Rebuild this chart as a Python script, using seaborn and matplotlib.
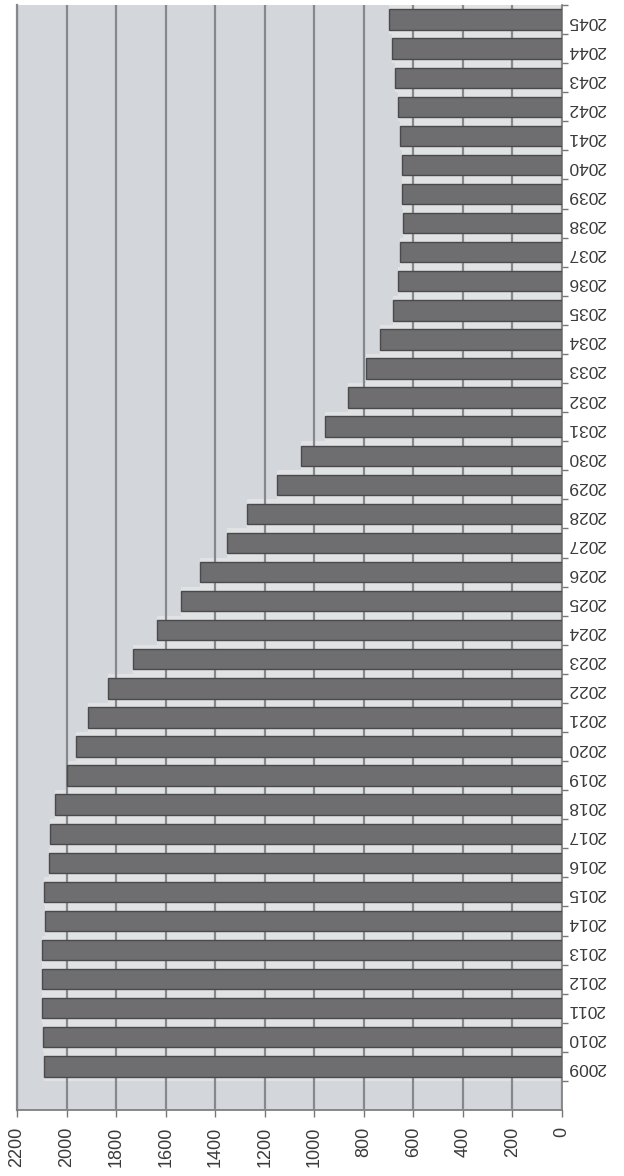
import matplotlib
matplotlib.use("Agg")
import matplotlib.pyplot as plt
import numpy as np
import pandas as pd
import seaborn as sns

# Annual values, 2009-2045
years = [str(y) for y in range(2009, 2046)]
values = [2091, 2095, 2099, 2099, 2099, 2087, 2091, 2071, 2067, 2045,
          2000, 1960, 1914, 1833, 1732, 1635, 1538, 1461, 1352, 1270,
          1150, 1054, 955, 862, 791, 733, 684, 664, 654, 642,
          644, 646, 654, 662, 674, 688, 700]
value_ticks = list(range(0, 2201, 200))

df = pd.DataFrame({"year": years, "value": values})
order = years[::-1]  # latest year at the top

sns.set_theme(style="white")
plt.rcParams["font.family"] = ["Liberation Sans", "DejaVu Sans"]

fig = plt.figure(figsize=(6.24, 11.76), dpi=100, facecolor="white")
W, H = 624, 1176
ax = fig.add_axes([17 / W, (H - 1110) / H, (562 - 17) / W, (1110 - 5) / H])
ax.set_facecolor("#d3d6db")

# pale band behind each bar
sns.barplot(data=df, x="value", y="year", order=order, orient="h",
            color="#e1e2e4", width=1.0, linewidth=0, saturation=1,
            ax=ax, zorder=1)
# main bars
sns.barplot(data=df, x="value", y="year", order=order, orient="h",
            color="#6e6e71", width=0.7, edgecolor="#4a4a4c", linewidth=1.0,
            saturation=1, ax=ax, zorder=3)

n = len(years)
ax.set_xlim(2200, 0)
ax.set_ylim(n - 1 + 1.5, -0.5)

ax.set_xticks(value_ticks)
ax.set_xticklabels([str(v) for v in value_ticks], rotation=90,
                   fontsize=13, color="#3a3a3a")
ax.grid(axis="x", color="#85888d", linewidth=1.6, zorder=2)
ax.grid(axis="y", visible=False)
ax.set_axisbelow(False)
for gl in ax.get_xgridlines():
    gl.set_zorder(2)

ax.yaxis.tick_right()
ax.set_yticks(range(n))
ax.set_yticklabels(order, rotation=180, fontsize=12.5, color="#3a3a3a")
ax.set_yticks(np.arange(-0.5, n + 0.5, 1.0), minor=True)
ax.tick_params(axis="y", which="major", length=0, pad=4)
ax.tick_params(axis="y", which="minor", length=4, width=1, color="#777777",
               direction="out", right=True, left=False)
ax.tick_params(axis="x", which="major", length=5, width=1, color="#777777",
               direction="out", bottom=True, pad=7)

ax.set_xlabel("")
ax.set_ylabel("")

ax.spines["top"].set_visible(False)
ax.spines["left"].set_color("#85888d")
ax.spines["left"].set_linewidth(1.6)
ax.spines["right"].set_color("#777777")
ax.spines["right"].set_linewidth(1.2)
ax.spines["bottom"].set_color("#777777")
ax.spines["bottom"].set_linewidth(1.2)

fig.savefig("out.png", dpi=100, facecolor="white")
